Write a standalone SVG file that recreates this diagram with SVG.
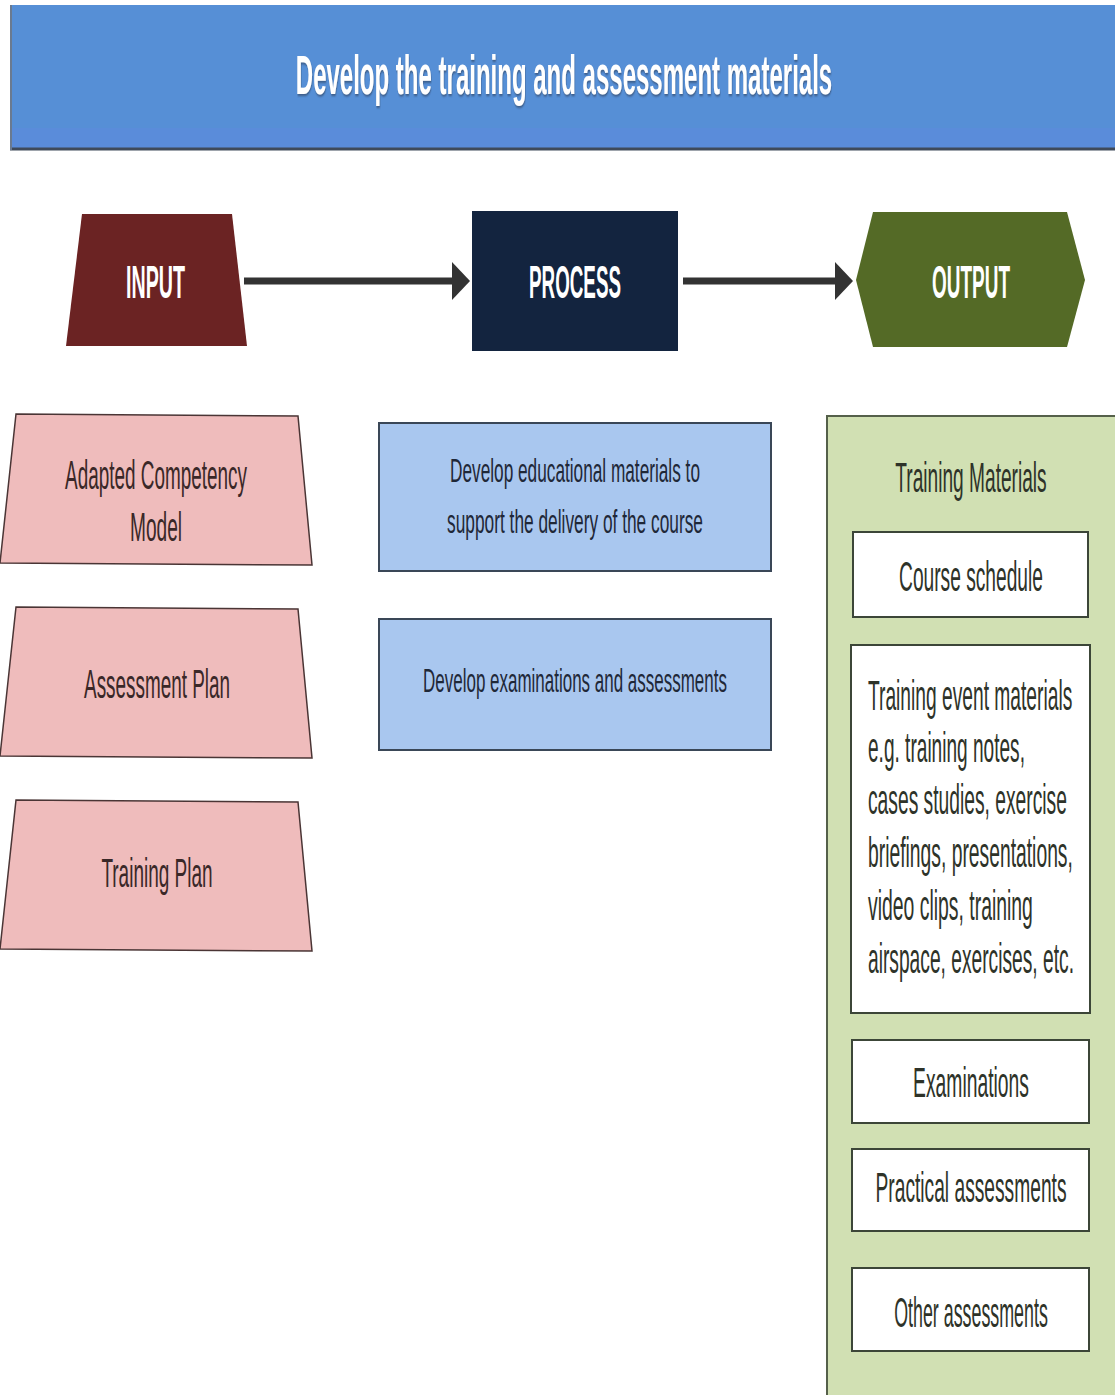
<svg xmlns="http://www.w3.org/2000/svg" width="1115" height="1395" viewBox="0 0 1115 1395">
<style>
text{font-family:"Liberation Sans",Arial,sans-serif;}
.t{fill:#2b2b2b;}
.pt{fill:#3a2828;font-size:40px;text-anchor:middle;}
.bt{fill:#1f2838;font-size:34px;text-anchor:middle;}
.gt{fill:#2e3329;font-size:43px;}
.mid{text-anchor:middle;}
.w{fill:#ffffff;font-weight:bold;text-anchor:middle;}
.lbl{font-size:46px;}
.pink{fill:#efbcbc;stroke:#4a3535;stroke-width:1.5;}
.blue{fill:#a9c7ef;stroke:#3a4757;stroke-width:2;}
.box{fill:#ffffff;stroke:#3c4638;stroke-width:2;}
.conn{stroke:#333333;stroke-width:7;fill:none;}
</style>
<defs>
<marker id="ah" markerUnits="userSpaceOnUse" markerWidth="18" markerHeight="38" refX="3" refY="19" orient="auto">
<path d="M0,0 L18,19 L0,38 z" fill="#333333"/>
</marker>
<filter id="sh" x="-5%" y="-20%" width="110%" height="150%">
<feDropShadow dx="1" dy="2" stdDeviation="1" flood-color="#2a3a55" flood-opacity="0.6"/>
</filter>
</defs>
<rect width="1115" height="1395" fill="#ffffff"/>

<g id="header">
<rect x="10" y="5" width="1110" height="145" fill="#568fd6"/>
<rect x="10" y="128" width="1110" height="20" fill="#5a8cda"/>
<line x1="10" y1="149" x2="1115" y2="149" stroke="#3f4a5a" stroke-width="3"/>
<line x1="11" y1="5" x2="11" y2="150" stroke="#6a7a90" stroke-width="2"/>
<text class="w" transform="translate(564,94) scale(0.4288,1)" x="0" y="0" font-size="56" filter="url(#sh)">Develop the training and assessment materials</text>
</g>

<g id="input">
<polygon points="82,214 232,214 247,346 66,346" fill="#6b2323"/>
<text class="w lbl" transform="translate(155.5,298) scale(0.4275,1)" x="0" y="0">INPUT</text>
</g>

<g id="process">
<rect x="472" y="211" width="206" height="140" fill="#13243f"/>
<text class="w lbl" transform="translate(575,298) scale(0.409,1)" x="0" y="0">PROCESS</text>
</g>

<g id="output">
<polygon points="873,212 1067,212 1085,280 1067,347 873,347 856,280" fill="#546a26"/>
<text class="w lbl" transform="translate(971,298) scale(0.4125,1)" x="0" y="0">OUTPUT</text>
</g>

<g id="connectors">
<line class="conn" x1="244" y1="281" x2="455" y2="281" marker-end="url(#ah)"/>
<line class="conn" x1="683" y1="281" x2="838" y2="281" marker-end="url(#ah)"/>
</g>

<g id="adapted-competency-model">
<polygon class="pink" points="16,414 298,416 312,565 0,563"/>
<text class="pt" transform="translate(156,489) scale(0.473,1)" x="0" y="0">Adapted Competency</text>
<text class="pt" transform="translate(156,541) scale(0.4775,1)" x="0" y="0">Model</text>
</g>

<g id="assessment-plan">
<polygon class="pink" points="16,607 298,609 312,758 0,756"/>
<text class="pt" transform="translate(157,698) scale(0.4725,1)" x="0" y="0">Assessment Plan</text>
</g>

<g id="training-plan">
<polygon class="pink" points="16,800 298,802 312,951 0,949"/>
<text class="pt" transform="translate(157,887) scale(0.475,1)" x="0" y="0">Training Plan</text>
</g>

<g id="develop-educational-materials">
<rect class="blue" x="379" y="423" width="392" height="148"/>
<text class="bt" transform="translate(575,482) scale(0.507,1)" x="0" y="0">Develop educational materials to</text>
<text class="bt" transform="translate(575,533) scale(0.509,1)" x="0" y="0">support the delivery of the course</text>
</g>

<g id="develop-examinations">
<rect class="blue" x="379" y="619" width="392" height="131"/>
<text class="bt" transform="translate(575,692) scale(0.4996,1)" x="0" y="0">Develop examinations and assessments</text>
</g>

<g id="training-materials">
<rect x="827" y="416" width="295" height="985" fill="#d1e0b3" stroke="#55604a" stroke-width="2"/>
<text class="gt mid" transform="translate(971,492) scale(0.445,1)" x="0" y="0">Training Materials</text>
</g>

<g id="course-schedule">
<rect class="box" x="853" y="532" width="235" height="85"/>
<text class="gt mid" transform="translate(971,591) scale(0.446,1)" x="0" y="0">Course schedule</text>
</g>

<g id="training-event-materials">
<rect class="box" x="851" y="645" width="239" height="368"/>
<text class="gt" transform="translate(868,710) scale(0.4468,1)" x="0" y="0">Training event materials</text>
<text class="gt" transform="translate(868,762) scale(0.4438,1)" x="0" y="0">e.g. training notes,</text>
<text class="gt" transform="translate(868,814) scale(0.4477,1)" x="0" y="0">cases studies, exercise</text>
<text class="gt" transform="translate(868,867) scale(0.449,1)" x="0" y="0">briefings, presentations,</text>
<text class="gt" transform="translate(868,920) scale(0.451,1)" x="0" y="0">video clips, training</text>
<text class="gt" transform="translate(868,973) scale(0.4466,1)" x="0" y="0">airspace, exercises, etc.</text>
</g>

<g id="examinations">
<rect class="box" x="852" y="1040" width="237" height="83"/>
<text class="gt mid" transform="translate(971,1097) scale(0.449,1)" x="0" y="0">Examinations</text>
</g>

<g id="practical-assessments">
<rect class="box" x="852" y="1149" width="237" height="82"/>
<text class="gt mid" transform="translate(971,1202) scale(0.4466,1)" x="0" y="0">Practical assessments</text>
</g>

<g id="other-assessments">
<rect class="box" x="852" y="1268" width="237" height="83"/>
<text class="gt mid" transform="translate(971,1327) scale(0.415,1)" x="0" y="0">Other assessments</text>
</g>
</svg>
